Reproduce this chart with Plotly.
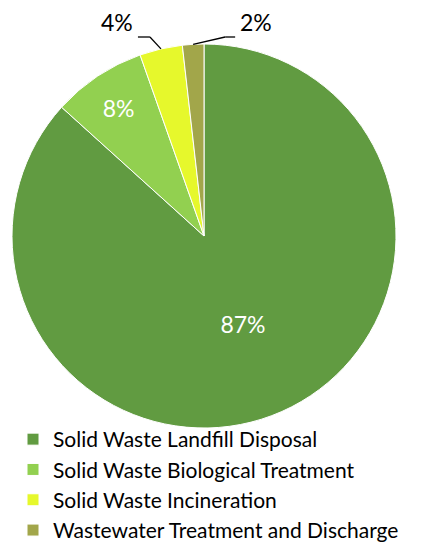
import math
import plotly.graph_objects as go

# Share of emissions by source category
categories = [
    "Solid Waste Landfill Disposal",
    "Solid Waste Biological Treatment",
    "Solid Waste Incineration",
    "Wastewater Treatment and Discharge",
]
shares = [86.7, 7.9, 3.6, 1.8]
colors = ["#619B41", "#92D050", "#E6F82C", "#A2A64A"]
# which slices carry their label inside the wedge
inside_label = [True, True, False, False]

W, H = 422, 545
CX, CY, R = 204, 236, 192  # pie centre and radius in pixels


def px(x):
    return x / W


def py(y):
    return 1 - y / H


text_inside = [
    f"{v / sum(shares):.0%}" if inside else "" for v, inside in zip(shares, inside_label)
]

fig = go.Figure(
    go.Pie(
        labels=categories,
        values=shares,
        sort=False,
        direction="clockwise",
        rotation=0,
        text=text_inside,
        textinfo="text",
        textposition="inside",
        insidetextorientation="horizontal",
        textfont=dict(color="white", size=23, family="Lato"),
        marker=dict(colors=colors, line=dict(color="white", width=1)),
        domain=dict(x=[px(CX - R), px(CX + R)], y=[py(CY + R), py(CY - R)]),
        hoverinfo="label+percent",
    )
)

# Outside labels with elbow leader lines for the thin slices
annotations = []
shapes = []
total = sum(shares)
cum = 0.0
for v, inside in zip(shares, inside_label):
    mid = (cum + v / 2) / total * 2 * math.pi  # clockwise from 12 o'clock
    cum += v
    if inside:
        continue
    ex = CX + R * math.sin(mid)
    ey = CY - R * math.cos(mid)
    # the last slice before 12 o'clock is labelled on the right, others on the left
    side = -1 if cum / total < 0.99 else 1
    kx = ex + side * 11 if side < 0 else ex + 32
    ky = 37
    hx = kx + side * 12 if side < 0 else kx + 10
    shapes.append(dict(type="line", xref="paper", yref="paper",
                       x0=px(ex), y0=py(ey), x1=px(kx), y1=py(ky),
                       line=dict(color="black", width=1.3)))
    shapes.append(dict(type="line", xref="paper", yref="paper",
                       x0=px(kx), y0=py(ky), x1=px(hx), y1=py(ky),
                       line=dict(color="black", width=1.3)))
    annotations.append(dict(
        x=px(hx + side * 3), y=py(22), xref="paper", yref="paper",
        text=f"{v / total:.0%}", showarrow=False,
        xanchor="right" if side < 0 else "left", yanchor="middle",
        font=dict(size=23, color="black", family="Lato"),
    ))

fig.update_layout(
    width=W,
    height=H,
    margin=dict(l=0, r=0, t=0, b=0, autoexpand=False),
    paper_bgcolor="white",
    plot_bgcolor="white",
    showlegend=True,
    legend=dict(
        orientation="v",
        x=px(13), y=py(551), xanchor="left", yanchor="bottom",
        bgcolor="rgba(0,0,0,0)",
        font=dict(size=21, color="black", family="Lato"),
        tracegroupgap=0,
    ),
    shapes=shapes,
    annotations=annotations,
)

fig.write_html("out.html")
